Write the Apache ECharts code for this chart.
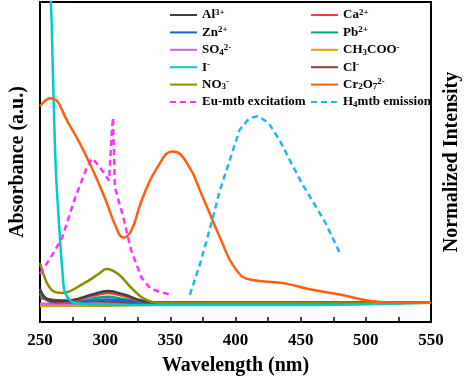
<!DOCTYPE html>
<html>
<head>
<meta charset="utf-8">
<script src="https://cdn.jsdelivr.net/npm/echarts@6/dist/echarts.min.js"></script>
<style>
  html, body { margin: 0; padding: 0; background: #fff; }
  #chart { width: 470px; height: 381px; }
</style>
</head>
<body>
<div id="chart"></div>
<script>
// absorbance spectra, [wavelength nm, value]
const al = [[250, 10.0], [254, 7.5], [260, 6.6], [275, 6.9], [290, 8.6], [302, 9.7], [315, 8.5], [327, 6.8], [340, 6.0], [550, 6.0]]
const ca = [[250, 9.1], [254, 7.2], [260, 6.4], [275, 6.6], [290, 8.1], [302, 9.1], [315, 8.0], [327, 6.6], [340, 6.0], [550, 6.0]]
const zn = [[250, 10.3], [254, 7.5], [260, 6.3], [280, 6.3], [302, 7.0], [325, 6.3], [340, 6.0], [550, 6.0]]
const pb = [[250, 8.5], [255, 6.8], [262, 6.0], [278, 6.2], [292, 7.4], [302, 7.9], [315, 7.1], [328, 6.2], [340, 6.0], [550, 6.0]]
const so4 = [[250, 5.7], [300, 5.7], [350, 5.9], [550, 6.0]]
const ch3coo = [[250, 5.0], [300, 5.1], [350, 5.5], [550, 6.0]]
const iodide = [[255, 118], [258.3, 100], [259.8, 79.6], [262.1, 48.3], [265.1, 27.6], [267.4, 15.0], [269.6, 8.8], [277, 6.0], [300, 5.3], [450, 5.3], [550, 6.0]]
const cl = [[250, 7.5], [270, 6.6], [300, 6.4], [330, 6.0], [550, 6.0]]
const no3 = [[250, 18.5], [255, 12.5], [260, 9.7], [267, 9.1], [283, 11.9], [295, 15.0], [301, 16.6], [310, 15.0], [320, 10.7], [330, 7.2], [341, 6.0], [550, 6.0]]
const cr2o7 = [[250, 67.4], [258, 69.9], [272, 62.0], [286, 51.4], [300, 38.5], [308, 30.0], [314, 26.4], [320, 28.5], [328, 38.0], [340, 48.3], [352, 53.3], [363, 49.5], [375, 38.9], [388, 26.5], [400, 16.6], [412, 13.2], [436, 12.2], [456, 10.3], [480, 8.6], [505, 6.5], [525, 6.0], [550, 6.0]]

// normalized emission / excitation
const euExc = [[250, 15.0], [258, 20.0], [267, 26.3], [277, 38.9], [286, 48.3], [290, 51.1], [295, 48.9], [303, 44.2], [305, 58.9], [306, 63.9], [307.5, 42.0], [314, 32.6], [320, 22.3], [328, 13.8], [335, 10.3], [350, 8.5]]
const h4Em = [[365, 8.5], [373, 18.5], [381, 30.1], [388, 41.1], [398, 53.6], [403, 59.9], [409, 63.0], [413, 63.9], [417, 64.3], [420, 63.6], [425, 62.4], [434, 56.7], [443, 49.5], [451, 43.3], [459, 37.9], [469, 31.0], [480, 21.6]]

const xTicks = [250, 300, 350, 400, 450, 500, 550]

const leftNames = ['Al3+', 'Zn2+', 'SO42-', 'I-', 'NO3-', 'Eu-mtb excitatiom']
const rightNames = ['Ca2+', 'Pb2+', 'CH3COO-', 'Cl-', 'Cr2O72-', 'H4mtb emission']
const richLabels = {
  'Al3+': 'Al{sup|3+}',
  'Zn2+': 'Zn{sup|2+}',
  'SO42-': 'SO{sub|4}{sup|2-}',
  'I-': 'I{sup|-}',
  'NO3-': 'NO{sub|3}{sup|-}',
  'Eu-mtb excitatiom': 'Eu-mtb excitatiom',
  'Ca2+': 'Ca{sup|2+}',
  'Pb2+': 'Pb{sup|2+}',
  'CH3COO-': 'CH{sub|3}COO{sup|-}',
  'Cl-': 'Cl{sup|-}',
  'Cr2O72-': 'Cr{sub|2}O{sub|7}{sup|2-}',
  'H4mtb emission': 'H{sub|4}mtb emission'
}

const FONT = 'Liberation Serif'

function line(name, data, color, opts) {
  return Object.assign({
    name: name,
    type: 'line',
    data: data,
    smooth: 0.4,
    symbol: 'none',
    lineStyle: { color: color, width: 2.5 },
    itemStyle: { color: color }
  }, opts || {})
}

const series = [
  line('CH3COO-', ch3coo, '#e0a000'),
  line('SO42-', so4, '#c46ad8'),
  line('Cl-', cl, '#8b3f3f'),
  line('Pb2+', pb, '#00a86b'),
  line('Zn2+', zn, '#1565d8'),
  line('Ca2+', ca, '#f03c3c'),
  line('Al3+', al, '#404040'),
  line('NO3-', no3, '#8c8c00'),
  line('I-', iodide, '#00cccc'),
  line('Cr2O72-', cr2o7, '#ff5f10', { smooth: 0.5 }),
  line('Eu-mtb excitatiom', euExc, '#ff33ff', {
    smooth: false, yAxisIndex: 1,
    lineStyle: { color: '#ff33ff', width: 2.5, type: [6, 4] }
  }),
  line('H4mtb emission', h4Em, '#22b5ee', {
    smooth: false, yAxisIndex: 1,
    lineStyle: { color: '#22b5ee', width: 2.5, type: [6, 4] }
  })
]

const legendText = {
  fontFamily: FONT,
  fontWeight: 'bold',
  fontSize: 13,
  color: '#000',
  lineHeight: 14,
  rich: {
    sup: { fontFamily: FONT, fontWeight: 'bold', fontSize: 9, lineHeight: 14, verticalAlign: 'top', color: '#000' },
    sub: { fontFamily: FONT, fontWeight: 'bold', fontSize: 9, lineHeight: 14, verticalAlign: 'bottom', color: '#000' }
  }
}

function legend(names, left) {
  return {
    data: names,
    orient: 'vertical',
    left: left,
    top: 8,
    itemWidth: 27,
    itemHeight: 14,
    itemGap: 3.4,
    padding: 0,
    itemStyle: { opacity: 0 }, // hide the default circle, keep the line
    formatter: n => richLabels[n],
    textStyle: legendText
  }
}

const chart = echarts.init(document.getElementById('chart'))
chart.setOption({
  animation: false,
  grid: {
    left: 37, right: 36, top: 2, bottom: 59,
    show: true, borderColor: '#000', borderWidth: 2
  },
  legend: [legend(leftNames, 169), legend(rightNames, 310)],
  xAxis: {
    type: 'value',
    min: 250,
    max: 550,
    interval: 50,
    name: 'Wavelength (nm)',
    nameLocation: 'middle',
    nameGap: 34,
    nameTextStyle: { fontFamily: FONT, fontWeight: 'bold', fontSize: 20, color: '#000' },
    axisLine: { lineStyle: { color: '#000', width: 2 } },
    axisTick: { inside: true, length: 5, lineStyle: { color: '#000', width: 1.5 } },
    minorTick: { show: true, splitNumber: 2, length: 5, lineStyle: { color: '#000', width: 1.5 } },
    splitLine: { show: false },
    axisLabel: {
      margin: 10,
      fontFamily: FONT, fontWeight: 'bold', fontSize: 17, color: '#000',
      formatter: v => xTicks.includes(v) ? String(v) : ''
    }
  },
  yAxis: [{
    type: 'value',
    min: 0,
    max: 100,
    name: 'Absorbance (a.u.)',
    nameLocation: 'middle',
    nameGap: 12,
    nameTextStyle: { fontFamily: FONT, fontWeight: 'bold', fontSize: 20, color: '#000' },
    axisLine: { show: true, lineStyle: { color: '#000', width: 2 } },
    axisTick: { show: false },
    axisLabel: { show: false },
    splitLine: { show: false }
  }, {
    type: 'value',
    position: 'right',
    min: 0,
    max: 100,
    name: 'Normalized Intensity',
    nameLocation: 'middle',
    nameGap: 11,
    nameTextStyle: { fontFamily: FONT, fontWeight: 'bold', fontSize: 20, color: '#000' },
    axisLine: { show: true, lineStyle: { color: '#000', width: 2 } },
    axisTick: { show: false },
    axisLabel: { show: false },
    splitLine: { show: false }
  }],
  series: series
})
</script>
</body>
</html>
